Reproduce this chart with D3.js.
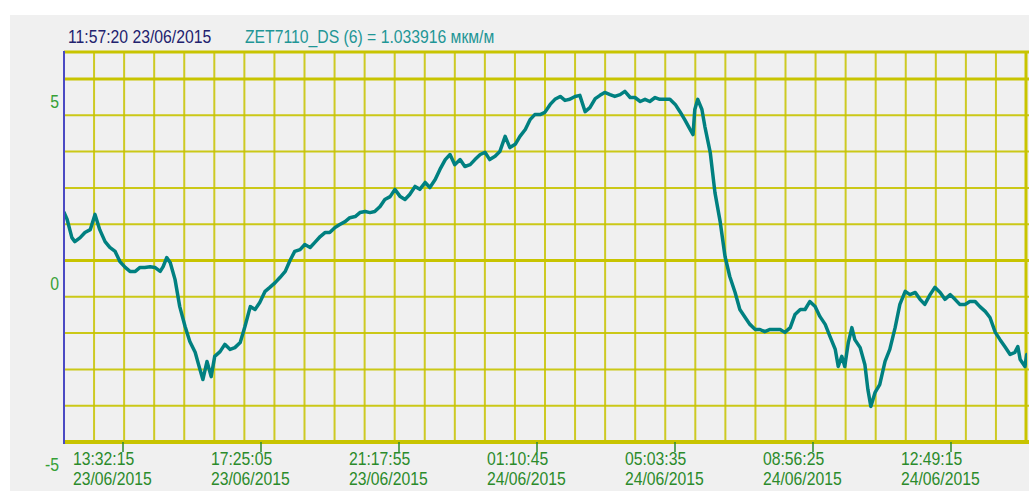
<!DOCTYPE html>
<html><head><meta charset="utf-8">
<script src="https://cdn.jsdelivr.net/npm/d3@7"></script>
<style>html,body{margin:0;padding:0;background:#fff;overflow:hidden}</style>
</head><body>
<svg id="c" width="1029" height="491"></svg>
<script>
// ---- data ----
const headerTime = "11:57:20 23/06/2015";
const headerChannel = "ZET7110_DS (6) = 1.033916 мкм/м";
const tickTimes = ["13:32:15","17:25:05","21:17:55","01:10:45","05:03:35","08:56:25","12:49:15"];
const tickDates = ["23/06/2015","23/06/2015","23/06/2015","24/06/2015","24/06/2015","24/06/2015","24/06/2015"];
const yLabelValues = [5, 0, -5];
const yMinorValues = [4, 3, 2, 1, -1, -2, -3, -4];
// time in minutes since 00:00 23/06/2015
const timeMinutes = [
  713, 718, 726, 731, 740, 748, 757, 765, 773, 782,
  790, 799, 807, 816, 824, 833, 841, 849, 858, 866,
  875, 880, 886, 892, 900, 908, 917, 925, 934, 942,
  947, 954, 961, 967, 976, 984, 993, 1001, 1010, 1018,
  1027, 1035, 1043, 1052, 1060, 1069, 1077, 1086, 1094, 1102,
  1111, 1119, 1128, 1136, 1145, 1153, 1161, 1170, 1178, 1187,
  1195, 1204, 1212, 1221, 1229, 1237, 1246, 1254, 1263, 1271,
  1280, 1288, 1296, 1305, 1313, 1322, 1330, 1339, 1347, 1356,
  1364, 1372, 1381, 1389, 1398, 1406, 1415, 1423, 1431, 1440,
  1448, 1457, 1465, 1474, 1482, 1491, 1499, 1507, 1516, 1524,
  1533, 1541, 1550, 1558, 1566, 1575, 1583, 1592, 1600, 1609,
  1617, 1625, 1634, 1642, 1651, 1659, 1668, 1676, 1685, 1693,
  1701, 1710, 1718, 1727, 1735, 1744, 1752, 1760, 1769, 1774,
  1777, 1782, 1789, 1794, 1803, 1811, 1820, 1828, 1836, 1845,
  1853, 1862, 1870, 1879, 1887, 1895, 1904, 1912, 1921, 1929,
  1938, 1946, 1955, 1963, 1971, 1980, 1988, 1997, 2005, 2014,
  2019, 2025, 2030, 2036, 2042, 2047, 2056, 2064, 2069, 2074,
  2081, 2089, 2098, 2106, 2115, 2123, 2132, 2140, 2149, 2157,
  2165, 2174, 2182, 2191, 2199, 2208, 2216, 2224, 2233, 2241,
  2250, 2258, 2267, 2275, 2284, 2292, 2300, 2309, 2317, 2322,
  2326, 2334, 2337
];
// strain, мкм/м
const values = [
  1.32, 1.13, 0.63, 0.52, 0.63, 0.77, 0.85, 1.27, 0.85, 0.52,
  0.36, 0.25, -0.03, -0.19, -0.30, -0.30, -0.19, -0.19, -0.17, -0.19,
  -0.30, -0.17, 0.08, -0.06, -0.52, -1.27, -1.82, -2.23, -2.53, -3.00,
  -3.28, -2.78, -3.20, -2.64, -2.51, -2.31, -2.45, -2.40, -2.26, -1.82,
  -1.27, -1.35, -1.16, -0.85, -0.74, -0.61, -0.47, -0.30, 0.00, 0.25,
  0.30, 0.44, 0.36, 0.50, 0.66, 0.77, 0.77, 0.91, 0.99, 1.07,
  1.18, 1.21, 1.32, 1.35, 1.32, 1.35, 1.49, 1.68, 1.76, 1.96,
  1.76, 1.68, 1.82, 2.04, 1.96, 2.15, 2.01, 2.23, 2.51, 2.78,
  2.92, 2.64, 2.78, 2.59, 2.64, 2.78, 2.92, 2.98, 2.78, 2.87,
  3.00, 3.42, 3.11, 3.20, 3.42, 3.61, 3.88, 4.02, 4.02, 4.08,
  4.30, 4.44, 4.52, 4.41, 4.44, 4.52, 4.55, 4.10, 4.21, 4.46,
  4.55, 4.63, 4.57, 4.52, 4.57, 4.66, 4.49, 4.49, 4.38, 4.44,
  4.38, 4.49, 4.44, 4.44, 4.44, 4.30, 4.10, 3.88, 3.61, 3.47,
  4.16, 4.44, 4.16, 3.69, 2.98, 1.87, 1.05, 0.11, -0.44, -0.88,
  -1.35, -1.57, -1.76, -1.90, -1.90, -1.96, -1.90, -1.90, -1.90, -1.98,
  -1.85, -1.49, -1.35, -1.35, -1.13, -1.27, -1.54, -1.76, -2.09, -2.45,
  -2.92, -2.64, -2.92, -2.26, -1.85, -2.18, -2.40, -2.87, -3.55, -4.02,
  -3.64, -3.42, -2.78, -2.45, -1.85, -1.21, -0.85, -0.94, -0.88, -1.07,
  -1.21, -0.94, -0.74, -0.88, -1.07, -0.94, -1.07, -1.21, -1.21, -1.13,
  -1.13, -1.27, -1.40, -1.57, -1.98, -2.18, -2.37, -2.59, -2.53, -2.37,
  -2.73, -2.92, -2.59
];
const timeDomain = [712.7, 2335.8];
const valueDomain = [-5, 5];

// ---- layout ----
const W = 1029, H = 491;
const P = {left: 64, right: 1026, top: 52, bottom: 442, top5: 79};
const GRID = "#c8c400", LINE = "#008080";
const FONT = "'Liberation Sans', Arial, sans-serif";

const svg = d3.select("#c");
svg.append("rect").attr("x", 10).attr("y", 15).attr("width", W - 10).attr("height", H - 15).attr("fill", "#f0f0f0");

function toMinutes(t, d) {
  const [h, m, s] = t.split(":").map(Number);
  const day = +d.split("/")[0] - 23;
  return day * 1440 + h * 60 + m + s / 60;
}
const tickMin = tickTimes.map((t, i) => toMinutes(t, tickDates[i]));

const x = d3.scaleLinear().domain(timeDomain).range([P.left, P.right]);
const y = d3.scaleLinear().domain(valueDomain).range([P.bottom, P.top5]);

const g = svg.append("g");
// vertical grid
const nV = 32;
d3.range(1, nV).forEach(i => {
  const xx = P.left + i * (P.right - P.left) / nV;
  g.append("line").attr("x1", xx).attr("x2", xx).attr("y1", P.top).attr("y2", P.bottom)
    .attr("stroke", GRID).attr("stroke-width", 2).attr("opacity", 0.85);
});
// right border
g.append("line").attr("x1", P.right).attr("x2", P.right).attr("y1", P.top).attr("y2", P.bottom)
  .attr("stroke", GRID).attr("stroke-width", 3);
// horizontal minor grid
yMinorValues.forEach(v => {
  g.append("line").attr("x1", P.left).attr("x2", W).attr("y1", y(v)).attr("y2", y(v))
    .attr("stroke", GRID).attr("stroke-width", 2).attr("opacity", 0.9);
});
// major lines
yLabelValues.forEach(v => {
  g.append("line").attr("x1", P.left).attr("x2", W).attr("y1", y(v)).attr("y2", y(v))
    .attr("stroke", GRID).attr("stroke-width", v === -5 ? 4 : 3);
});
// top border
g.append("line").attr("x1", P.left).attr("x2", W).attr("y1", P.top).attr("y2", P.top)
  .attr("stroke", GRID).attr("stroke-width", 3);

// clip
svg.append("clipPath").attr("id", "clip").append("rect")
  .attr("x", P.left).attr("y", P.top).attr("width", P.right - P.left + 1).attr("height", P.bottom - P.top);

const data = timeMinutes.map((t, i) => [t, values[i]]);
svg.append("path").datum(data)
  .attr("clip-path", "url(#clip)")
  .attr("fill", "none").attr("stroke", LINE).attr("stroke-width", 3.5)
  .attr("stroke-linejoin", "round").attr("stroke-linecap", "round")
  .attr("d", d3.line().x(d => x(d[0])).y(d => y(d[1])));

// left axis line
svg.append("line").attr("x1", P.left).attr("x2", P.left).attr("y1", P.top - 1).attr("y2", P.bottom + 2)
  .attr("stroke", "#4a4ac4").attr("stroke-width", 2);

function label(txt, px, py, anchor, color) {
  svg.append("text").attr("transform", `translate(${px},${py}) scale(0.9,1)`)
    .attr("text-anchor", anchor).attr("fill", color)
    .style("font-family", FONT).style("font-size", "17.5px").text(txt);
}

// x ticks and labels
tickMin.forEach((tm, i) => {
  const xx = x(tm);
  svg.append("line").attr("x1", xx).attr("x2", xx).attr("y1", P.bottom).attr("y2", P.bottom + 10)
    .attr("stroke", "#2b8b2b").attr("stroke-width", 1.5);
  label(tickTimes[i], xx - 50, 465, "start", "#2b8b2b");
  label(tickDates[i], xx - 50, 485, "start", "#2b8b2b");
});
// y labels
yLabelValues.forEach(v => label(String(v), 59, y(v) + 29, "end", "#36a036"));

// header
label(headerTime, 68, 43, "start", "#22226e");
label(headerChannel, 245, 43, "start", "#1f9696");
</script>
</body></html>
